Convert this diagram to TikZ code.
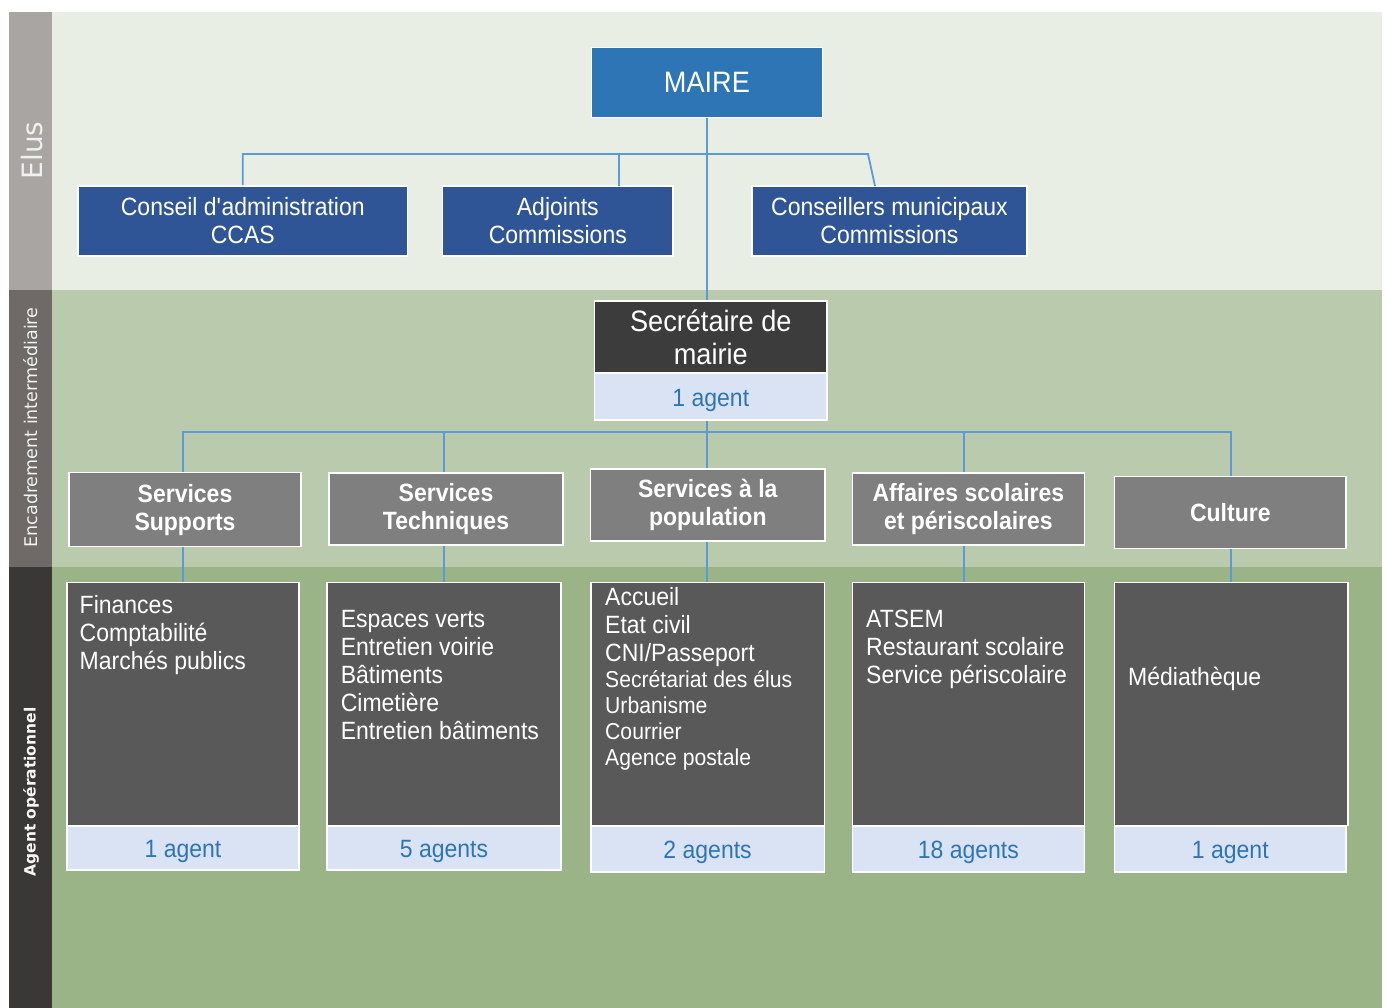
\documentclass[tikz,border=0pt]{standalone}
\usepackage{fontspec}
\setmainfont{Liberation Sans}[FakeStretch=0.92]
\newfontfamily\sidefont{DejaVu Sans}
\definecolor{elusbg}{HTML}{E8EEE4}
\definecolor{encbg}{HTML}{BACBAD}
\definecolor{agbg}{HTML}{9AB487}
\definecolor{sideA}{HTML}{A9A5A2}
\definecolor{sideB}{HTML}{6F6A67}
\definecolor{sideC}{HTML}{3A3836}
\definecolor{mairec}{HTML}{2E75B6}
\definecolor{elusbox}{HTML}{2F5597}
\definecolor{secdark}{HTML}{3C3C3C}
\definecolor{lightblue}{HTML}{DAE3F3}
\definecolor{bluetext}{HTML}{2E75B6}
\definecolor{svc}{HTML}{7F7F7F}
\definecolor{agbox}{HTML}{595959}
\definecolor{linkc}{HTML}{5B9BD5}
\begin{document}
\begin{tikzpicture}[x=1pt,y=-1pt,
  link/.style={draw=linkc, line width=1.8pt},
  boxbase/.style={draw=white, line width=1.5pt, inner sep=0pt, align=center, text=white},
  maireS/.style={boxbase, fill=mairec, font=\fontsize{29.5}{33}\selectfont},
  elusS/.style={boxbase, fill=elusbox, font=\fontsize{25}{28}\selectfont},
  secS/.style={boxbase, fill=secdark, font=\fontsize{29.5}{33}\selectfont},
  countS/.style={boxbase, fill=lightblue, text=bluetext, font=\fontsize{25}{28}\selectfont,
                 text height=20pt, text depth=0pt},
  svcS/.style={boxbase, fill=svc, font=\fontsize{25}{28}\selectfont\bfseries},
  agS/.style={boxbase, fill=agbox},
  listS/.style={anchor=north west, inner sep=0pt, align=left, text=white, font=\fontsize{25}{28}\selectfont},
  listsmall/.style={listS, font=\fontsize{23}{26}\selectfont},
  sideS/.style={rotate=90, inner sep=0pt}
]
\useasboundingbox (0,0) rectangle (1386,1008);
\fill[white] (0,0) rectangle (1386,1008);

% horizontal bands
\fill[elusbg] (52,12) rectangle (1382,289.5);
\fill[encbg]  (52,289.5) rectangle (1382,567);
\fill[agbg]   (52,567) rectangle (1382,1008);
\fill[sideA]  (9,12) rectangle (52,289.5);
\fill[sideB]  (9,289.5) rectangle (52,567);
\fill[sideC]  (9,567) rectangle (52,1008);

% band titles
\node[sideS, text=white!94!black, font=\sidefont\fontsize{28}{30}\selectfont] (tElus) at (32,150.5) {Elus};
\node[sideS, text=white!95!black, font=\sidefont\fontsize{17.5}{20}\selectfont] (tEnc) at (31,427.5) {Encadrement intermédiaire};
\node[sideS, text=white!96!black, font=\sidefont\fontsize{15.5}{18}\selectfont\bfseries] (tAg) at (31,792) {Agent opérationnel};

% elected officials
\node[maireS, minimum width=231pt, minimum height=70pt] (maire) at (706.9,82.3) {MAIRE};
\node[elusS, minimum width=329.6pt, minimum height=70pt] (ccas) at (242.8,221) {Conseil d\textquotesingle administration\\CCAS};
\node[elusS, minimum width=230.8pt, minimum height=70pt] (adj) at (557.8,221) {Adjoints\\Commissions};
\node[elusS, minimum width=274.7pt, minimum height=70pt] (cm) at (889.4,221) {Conseillers municipaux\\Commissions};

% town clerk
\node[secS, minimum width=232.4pt, minimum height=72.3pt] (sec) at (710.8,336.9) {Secrétaire de\\mairie};
\node[countS, minimum width=232.4pt, minimum height=47pt] (secN) at (710.8,396.5) {1 agent};

% services
\node[svcS, minimum width=232pt, minimum height=74pt] (ss) at (185,509.7) {Services\\Supports};
\node[svcS, minimum width=234pt, minimum height=72.3pt] (st) at (446,508.9) {Services\\Techniques};
\node[svcS, minimum width=234.4pt, minimum height=72pt] (pop) at (707.8,505) {Services à la\\population};
\node[svcS, minimum width=232pt, minimum height=72.3pt] (aff) at (968.4,508.9) {Affaires scolaires\\et périscolaires};
\node[svcS, minimum width=231.5pt, minimum height=72pt] (cul) at (1230.3,512.7) {Culture};

% staff boxes
\node[agS, minimum width=232pt, minimum height=243pt] (ssA) at (183,704.2) {};
\node[countS, minimum width=232pt, minimum height=44.3pt] (ssN) at (183,847.9) {1 agent};
\node[agS, minimum width=234pt, minimum height=243pt] (stA) at (444,704.2) {};
\node[countS, minimum width=234pt, minimum height=44.3pt] (stN) at (444,847.9) {5 agents};
\node[agS, minimum width=233.4pt, minimum height=243pt] (popA) at (707.6,704.2) {};
\node[countS, minimum width=233.4pt, minimum height=46.3pt] (popN) at (707.6,848.9) {2 agents};
\node[agS, minimum width=232pt, minimum height=243pt] (affA) at (968.4,704.2) {};
\node[countS, minimum width=232pt, minimum height=46.3pt] (affN) at (968.4,848.9) {18 agents};
\node[agS, minimum width=233.5pt, minimum height=243pt] (culA) at (1231.2,704.2) {};
\node[countS, minimum width=231.5pt, minimum height=46.3pt] (culN) at (1230.3,848.9) {1 agent};

% task lists
\node[listS] (ssL) at (79.5,589) {\rule{0pt}{24pt}Finances\\Comptabilité\\Marchés publics};
\node[listS] (stL) at (340.6,603) {\rule{0pt}{24pt}Espaces verts\\Entretien voirie\\Bâtiments\\Cimetière\\Entretien bâtiments};
\node[listS] (popL) at (605,581) {\rule{0pt}{24pt}Accueil\\Etat civil\\CNI/Passeport};
\node[listsmall] (popL2) at (605,665) {\rule{0pt}{22pt}Secrétariat des élus\\Urbanisme\\Courrier\\Agence postale};
\node[listS] (affL) at (866,603) {\rule{0pt}{24pt}ATSEM\\Restaurant scolaire\\Service périscolaire};
\node[listS] (culL) at (1128,661) {\rule{0pt}{24pt}Médiathèque};

% connectors, top level
\coordinate (busA) at (868,154);
\coordinate (cmT) at (875,186);
\coordinate (adjT) at (618.75,186);
\draw[link] (ccas.north) -- (ccas.north |- busA) -- (busA) -- (cmT);
\draw[link] (adjT) -- (adjT |- busA);
\draw[link] (maire.south) -- (maire.south |- sec.north);

% connectors, services
\coordinate (busL) at (183,431.7);
\coordinate (busR) at (1231,431.7);
\coordinate (stD) at (444,431.7);
\coordinate (affD) at (963.7,431.7);
\draw[link] (busL |- ss.north) -- (busL) -- (busR) -- (busR |- cul.north);
\draw[link] (stD) -- (stD |- st.north);
\draw[link] (affD) -- (affD |- aff.north);
\draw[link] (maire.south |- secN.south) -- (maire.south |- pop.north);

% connectors, staff
\draw[link] (busL |- ss.south) -- (busL |- ssA.north);
\draw[link] (stD |- st.south) -- (stD |- stA.north);
\draw[link] (maire.south |- pop.south) -- (maire.south |- popA.north);
\draw[link] (affD |- aff.south) -- (affD |- affA.north);
\draw[link] (busR |- cul.south) -- (busR |- culA.north);
\end{tikzpicture}
\end{document}
